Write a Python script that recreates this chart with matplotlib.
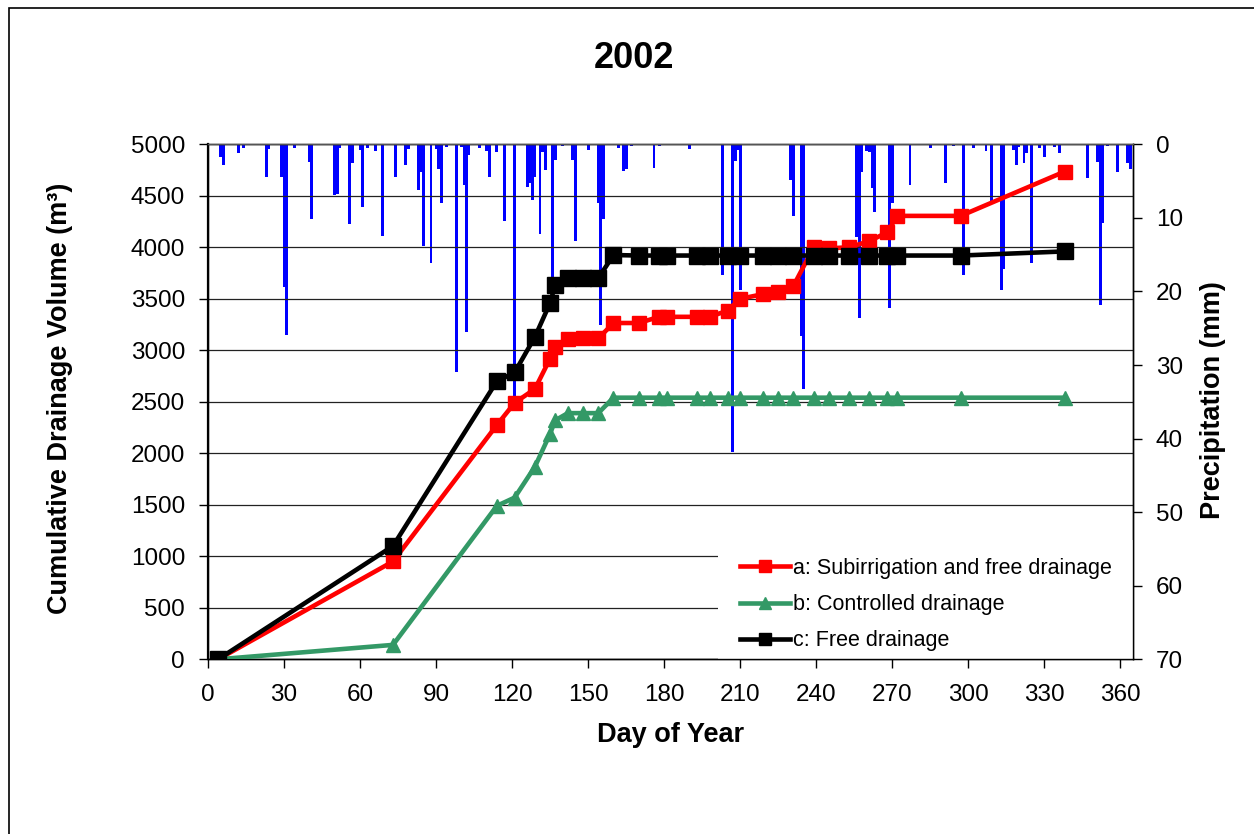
import matplotlib
matplotlib.use('Agg')
import matplotlib.pyplot as plt
from matplotlib.patches import Rectangle

# ---------------- data ----------------
days = [4, 73, 114, 121, 129, 135, 137, 142, 148, 154,
        160, 170, 178, 181, 193, 198, 205, 210, 219, 225,
        231, 239, 245, 253, 261, 268, 272, 297, 338]
sub_free = [0, 950, 2275, 2490, 2625, 2920, 3035, 3110, 3115, 3115,
            3265, 3265, 3325, 3325, 3325, 3325, 3385, 3500, 3545, 3565,
            3625, 4000, 3990, 4000, 4060, 4145, 4305, 4305, 4735]
controlled = [0, 140, 1490, 1570, 1870, 2190, 2320, 2390, 2390, 2390,
              2540, 2540, 2540, 2540, 2540, 2540, 2540, 2540, 2540, 2540,
              2540, 2540, 2540, 2540, 2540, 2540, 2540, 2540, 2540]
free = [0, 1100, 2700, 2785, 3130, 3460, 3635, 3700, 3700, 3700,
        3925, 3920, 3920, 3920, 3920, 3920, 3920, 3920, 3920, 3920,
        3920, 3920, 3920, 3920, 3920, 3920, 3920, 3920, 3960]

precip_days = [5, 6, 12, 14, 23, 24, 29, 30, 31, 34, 40, 41, 50, 51, 52, 56, 57,
               60, 61, 63, 66, 69, 74, 78, 79, 83, 84, 85, 88, 90, 91, 92, 94,
               98, 100, 101, 102, 103, 107, 110, 111, 114, 117, 121, 126, 127,
               128, 129, 131, 132, 133, 136, 137, 140, 144, 145, 150, 154, 155,
               156, 162, 164, 165, 167, 176, 178, 190, 203, 207, 208, 209, 210,
               230, 231, 234, 235, 256, 257, 258, 260, 261, 262, 263, 269, 270,
               277, 285, 291, 294, 298, 302, 307, 309, 313, 314, 318, 319, 320,
               322, 323, 325, 328, 330, 334, 336, 347, 351, 352, 353, 355, 359,
               363, 364]
precip_mm = [1.7, 2.8, 1.2, 0.5, 4.4, 0.7, 4.4, 19.4, 25.9, 0.5, 2.4, 10.2, 6.9, 6.7, 0.5, 10.9, 2.6,
             0.8, 8.5, 0.5, 0.9, 12.5, 4.4, 2.8, 0.7, 6.2, 3.7, 13.8, 16.1, 0.7, 3.3, 8.0, 0.3,
             30.9, 0.3, 5.5, 25.5, 1.5, 0.5, 0.9, 4.4, 1.1, 10.4, 34.3, 5.8, 5.2,
             7.6, 4.4, 12.2, 1.0, 3.5, 18.5, 2.1, 0.2, 2.1, 13.2, 0.8, 8.0, 24.5,
             10.1, 0.5, 3.6, 3.3, 0.2, 3.2, 0.2, 0.6, 17.8, 41.8, 2.3, 0.8, 19.8,
             4.9, 9.8, 26.1, 33.2, 12.6, 23.6, 3.7, 0.9, 1.0, 6.0, 9.2, 22.2, 8.0,
             5.5, 0.5, 5.3, 0.2, 17.8, 0.5, 0.9, 8.0, 19.8, 16.9, 0.8, 2.8, 0.3,
             2.6, 1.2, 16.2, 0.5, 1.7, 0.3, 1.2, 4.6, 2.4, 21.9, 10.7, 0.2, 3.7,
             2.6, 3.3]

x_ticks = list(range(0, 361, 30))
left_ticks = list(range(0, 5001, 500))
right_ticks = list(range(0, 71, 10))

labels = ["a: Subirrigation and free drainage", "b: Controlled drainage", "c: Free drainage"]

# ---------------- figure ----------------
plt.rcParams['font.family'] = ['Liberation Sans', 'DejaVu Sans']
W, H = 1254, 834
fig = plt.figure(figsize=(W / 100, H / 100), dpi=100)
fig.patch.set_facecolor('white')

# outer chart border
fig.add_artist(Rectangle((9 / W, -0.05), 1.1, 1 - 8 / H + 0.05, transform=fig.transFigure,
                         fill=False, edgecolor='black', linewidth=1.2))

ax = fig.add_axes([208 / W, 1 - 659.3 / H, 925 / W, 515 / H])
ax2 = ax.twinx()

# precipitation bars (secondary axis, behind lines)
ax2.bar(precip_days, precip_mm, width=1.15, color='#0000FF', align='center', linewidth=0)
ax2.set_ylim(70, 0)
ax2.set_yticks(right_ticks)

ax.set_zorder(ax2.get_zorder() + 1)
ax.patch.set_visible(False)

ax.plot(days, sub_free, color='#FF0000', lw=3.3, marker='s', ms=9.5, mec='#FF0000', mfc='#FF0000',
        label=labels[0], zorder=3)
ax.plot(days, controlled, color='#339966', lw=3.3, marker='^', ms=10.5, mec='#339966', mfc='#339966',
        label=labels[1], zorder=3)
ax.plot(days, free, color='black', lw=3.3, marker='s', ms=11, mec='black', mfc='black',
        label=labels[2], zorder=3)

ax.set_xlim(0, 365)
ax.set_ylim(0, 5000)
ax.set_xticks(x_ticks)
ax.set_yticks(left_ticks)
ax.yaxis.grid(True, color='#222222', linewidth=0.9)
ax.set_axisbelow(True)

# white box behind legend hides gridlines
ax.add_patch(Rectangle((0.551, 0.0), 0.449, 0.232, transform=ax.transAxes,
                       facecolor='white', edgecolor='none', zorder=1.8))

for a in (ax, ax2):
    for s in a.spines.values():
        s.set_color('black')
        s.set_linewidth(1.0)
ax.spines['left'].set_linewidth(1.6)
ax.spines['top'].set_color('#555555')

ax.tick_params(axis='both', direction='out', length=6.5, width=1, labelsize=17.5, pad=10)
ax.tick_params(axis='x', pad=11)
ax2.tick_params(axis='y', direction='out', length=6.5, width=1, labelsize=17.5, pad=10)

ax.set_xlabel("Day of Year", fontsize=19.5, fontweight='bold', labelpad=12)
fig.text(60 / W, 1 - 398 / H, "Cumulative Drainage Volume (m³)", rotation=90,
         fontsize=19.5, fontweight='bold', ha='center', va='center')
fig.text(1213 / W, 1 - 400 / H, "Precipitation (mm)", rotation=90,
         fontsize=19.5, fontweight='bold', ha='center', va='center')
fig.text(634 / W, 1 - 58 / H, "2002", fontsize=26, fontweight='bold', ha='center', va='center')

leg = ax.legend(loc='upper left', bbox_to_anchor=((740 - 208) / 925, (659.3 - 558) / 515),
                frameon=False, fontsize=15.5, borderpad=0, borderaxespad=0,
                handlelength=2.3, handletextpad=0.15, labelspacing=0.7, markerscale=0.85)
leg.set_zorder(5)

fig.savefig('out.png', dpi=100)
